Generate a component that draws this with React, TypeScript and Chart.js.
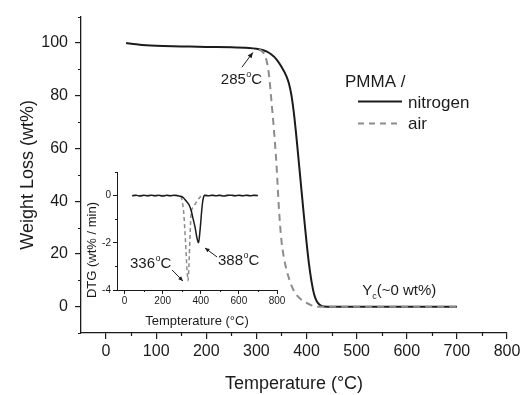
import React, { useEffect, useRef } from "react";
import { Chart, registerables } from "chart.js";

Chart.register(...registerables);

const FONT = '"Liberation Sans", Arial, Helvetica, sans-serif';
const INK = "#1b1b1b";
const GRAY = "#8c8c8c";

// ---------- Main TGA curves (Temperature °C -> Weight %) ----------
const nitrogenTemp = [40, 60, 80, 100, 150, 200, 250, 285, 300, 310, 320, 330, 340, 350, 360, 365, 370, 375, 380, 385, 390, 395, 400, 405, 410, 415, 420, 425, 430, 440, 500, 600, 700];
const nitrogenWeight = [100, 99.5, 99.1, 98.9, 98.7, 98.5, 98.4, 98.1, 97.8, 97.4, 96.8, 95.6, 93.8, 91, 87.3, 84.5, 80, 73, 64, 54, 44, 34, 24.5, 16, 9.5, 4.8, 2.2, 0.9, 0.3, 0, 0, 0, 0];
const airTemp = [305, 310, 315, 320, 325, 330, 335, 340, 345, 350, 355, 360, 370, 380, 390, 400, 410, 420, 500, 600, 700];
const airWeight = [97.6, 97.0, 96.0, 93.5, 88, 78, 67, 54, 37, 25, 18.5, 14, 8, 4.5, 2.6, 1.4, 0.5, 0, 0, 0, 0];

const mainXTicks = [0, 100, 200, 300, 400, 500, 600, 700, 800];
const mainXMinor = [50, 150, 250, 350, 450, 550, 650, 750];
const mainYTicks = [0, 20, 40, 60, 80, 100];
const mainYMinor = [-10, 10, 30, 50, 70, 90, 110];

// ---------- Inset DTG curves (Temperature °C -> wt% / min) ----------
const dtgNitrogenTemp = [40, 60, 80, 100, 120, 140, 160, 180, 200, 220, 240, 260, 280, 295, 310, 320, 330, 340, 350, 360, 370, 380, 388, 395, 400, 405, 410, 415, 420, 440, 460, 480, 500, 520, 540, 560, 580, 600, 620, 640, 660, 680, 700];
const dtgNitrogenRate = [-0.01, 0.02, -0.02, 0.01, -0.01, 0.02, -0.01, 0.01, -0.02, 0.01, -0.01, 0.02, -0.01, -0.03, -0.1, -0.2, -0.3, -0.42, -0.65, -1.0, -1.35, -1.8, -2.0, -1.55, -1.1, -0.6, -0.25, -0.05, 0.01, -0.01, 0.02, -0.01, 0.01, -0.02, 0.01, 0.02, -0.01, 0.01, -0.01, 0.02, -0.01, 0.01, 0.0];
const dtgAirTemp = [40, 290, 300, 310, 320, 328, 333, 338, 343, 348, 352, 360, 375, 390, 400, 410, 700];
const dtgAirRate = [0, 0, -0.15, -0.7, -2.0, -3.2, -3.6, -2.9, -1.8, -0.9, -0.6, -0.5, -0.3, -0.12, -0.03, 0, 0];

const insetXTicks = [0, 200, 400, 600, 800];
const insetXMinor = [100, 300, 500, 700];
const insetYTicks = [0, -2, -4];
const insetYMinor = [1, -1, -3];

const toPoints = (xs: number[], ys: number[]) => xs.map((x, i) => ({ x, y: ys[i] }));

function drawDeg(ctx: CanvasRenderingContext2D, x: number, y: number, lead: string, size: number) {
  ctx.textAlign = "left";
  ctx.textBaseline = "alphabetic";
  ctx.font = `${size}px ${FONT}`;
  ctx.fillText(lead, x, y);
  let cx = x + ctx.measureText(lead).width + 0.5;
  const small = Math.round(size * 0.6);
  ctx.font = `${small}px ${FONT}`;
  ctx.fillText("o", cx, y - size * 0.45);
  cx += ctx.measureText("o").width;
  ctx.font = `${size}px ${FONT}`;
  ctx.fillText("C", cx, y);
}

function drawArrow(ctx: CanvasRenderingContext2D, x1: number, y1: number, x2: number, y2: number, head: number) {
  ctx.beginPath();
  ctx.moveTo(x1, y1);
  ctx.lineTo(x2, y2);
  ctx.stroke();
  const a = Math.atan2(y2 - y1, x2 - x1);
  ctx.beginPath();
  ctx.moveTo(x2, y2);
  ctx.lineTo(x2 - head * Math.cos(a - 0.42), y2 - head * Math.sin(a - 0.42));
  ctx.lineTo(x2 - head * Math.cos(a + 0.42), y2 - head * Math.sin(a + 0.42));
  ctx.closePath();
  ctx.fill();
}

function minorTicks(xVals: number[], yVals: number[], len: number, width: number) {
  return {
    id: "minorTicks",
    afterDraw(chart: any) {
      const { ctx } = chart;
      const xs = chart.scales.x;
      const ys = chart.scales.y;
      ctx.save();
      ctx.strokeStyle = INK;
      ctx.lineWidth = width;
      ctx.beginPath();
      for (const v of xVals) {
        const px = Math.round(xs.getPixelForValue(v)) + 0.5;
        ctx.moveTo(px, xs.top);
        ctx.lineTo(px, xs.top + len);
      }
      for (const v of yVals) {
        const py = Math.round(ys.getPixelForValue(v)) + 0.5;
        ctx.moveTo(ys.right, py);
        ctx.lineTo(ys.right - len, py);
      }
      ctx.stroke();
      ctx.restore();
    },
  };
}

const mainAnnotations = {
  id: "mainAnnotations",
  afterDraw(chart: any) {
    const { ctx, chartArea } = chart;
    const xs = chart.scales.x;
    const ys = chart.scales.y;
    const X = (v: number) => xs.getPixelForValue(v);
    const Y = (v: number) => ys.getPixelForValue(v);
    ctx.save();
    ctx.fillStyle = INK;
    ctx.strokeStyle = INK;
    ctx.lineWidth = 1;
    // 285 °C onset label
    drawDeg(ctx, X(229), Y(84.5), "285", 15);
    drawArrow(ctx, X(271), Y(90.8), X(293), Y(96.4), 6);
    // Char yield label
    const yx = X(511);
    const yy = Y(4.3);
    ctx.font = `15px ${FONT}`;
    ctx.textAlign = "left";
    ctx.textBaseline = "alphabetic";
    ctx.fillText("Y", yx, yy);
    let cx = yx + ctx.measureText("Y").width;
    ctx.font = `9px ${FONT}`;
    ctx.fillText("c", cx, yy + 4);
    cx += ctx.measureText("c").width;
    ctx.font = `15px ${FONT}`;
    ctx.fillText("(~0 wt%)", cx, yy);
    // Legend
    const lx = chartArea.left + 264;
    const ly = chartArea.top + 70;
    ctx.font = `17px ${FONT}`;
    ctx.fillText("PMMA /", lx, ly);
    ctx.lineWidth = 2;
    ctx.strokeStyle = INK;
    ctx.beginPath();
    ctx.moveTo(lx + 13, ly + 15);
    ctx.lineTo(lx + 57, ly + 15);
    ctx.stroke();
    ctx.strokeStyle = GRAY;
    ctx.setLineDash([6, 5]);
    ctx.beginPath();
    ctx.moveTo(lx + 13, ly + 37);
    ctx.lineTo(lx + 57, ly + 37);
    ctx.stroke();
    ctx.setLineDash([]);
    ctx.fillText("nitrogen", lx + 63, ly + 21);
    ctx.fillText("air", lx + 63, ly + 42);
    ctx.restore();
  },
};

const insetAnnotations = {
  id: "insetAnnotations",
  afterDraw(chart: any) {
    const { ctx, chartArea } = chart;
    const xs = chart.scales.x;
    const ys = chart.scales.y;
    const X = (v: number) => xs.getPixelForValue(v);
    const Y = (v: number) => ys.getPixelForValue(v);
    ctx.save();
    ctx.fillStyle = INK;
    ctx.strokeStyle = INK;
    ctx.lineWidth = 1;
    drawDeg(ctx, X(28), Y(-3.07), "336", 15);
    drawArrow(ctx, X(249), Y(-3.15), X(306), Y(-3.62), 5);
    drawDeg(ctx, X(490), Y(-2.94), "388", 15);
    drawArrow(ctx, X(485), Y(-2.6), X(422), Y(-2.22), 5);
    // rotated y title
    ctx.translate(chartArea.left - 25, (chartArea.top + chartArea.bottom) / 2 + 19);
    ctx.rotate(-Math.PI / 2);
    ctx.font = `13px ${FONT}`;
    ctx.textAlign = "center";
    ctx.textBaseline = "middle";
    ctx.fillText("DTG (wt% / min)", 0, 0);
    ctx.restore();
  },
};

export default function App() {
  const mainRef = useRef<HTMLCanvasElement | null>(null);
  const insetRef = useRef<HTMLCanvasElement | null>(null);

  useEffect(() => {
    const main = new Chart(mainRef.current as HTMLCanvasElement, {
      type: "line",
      data: {
        datasets: [
          {
            label: "air",
            data: toPoints(airTemp, airWeight),
            borderColor: GRAY,
            borderWidth: 2,
            borderDash: [7, 5],
            pointRadius: 0,
            cubicInterpolationMode: "monotone",
            fill: false,
            order: 0,
          },
          {
            label: "nitrogen",
            data: toPoints(nitrogenTemp, nitrogenWeight),
            borderColor: INK,
            borderWidth: 2,
            pointRadius: 0,
            cubicInterpolationMode: "monotone",
            fill: false,
            order: 1,
          },
        ],
      },
      options: {
        animation: false,
        responsive: false,
        maintainAspectRatio: false,
        layout: { padding: { left: 0, top: 15, right: 20, bottom: 0 } },
        plugins: { legend: { display: false }, tooltip: { enabled: false } },
        scales: {
          x: {
            type: "linear",
            min: -50,
            max: 800,
            afterBuildTicks: (s: any) => {
              s.ticks = mainXTicks.map((v) => ({ value: v }));
            },
            afterFit: (s: any) => {
              s.height = 62;
            },
            grid: { drawOnChartArea: false, drawTicks: true, tickLength: 6, color: INK, lineWidth: 1.2 },
            border: { display: true, color: INK, width: 1.3 },
            ticks: { color: INK, font: { family: FONT, size: 16 }, padding: 3, maxRotation: 0, autoSkip: false, callback: (v: any) => String(v) },
            title: { display: true, text: "Temperature (°C)", color: INK, font: { family: FONT, size: 18 }, padding: { top: 0, bottom: 0 } },
          },
          y: {
            type: "linear",
            min: -10,
            max: 110,
            afterBuildTicks: (s: any) => {
              s.ticks = mainYTicks.map((v) => ({ value: v }));
            },
            afterFit: (s: any) => {
              s.width = 81;
            },
            grid: { drawOnChartArea: false, drawTicks: true, tickLength: 6, color: INK, lineWidth: 1.2 },
            border: { display: true, color: INK, width: 1.3 },
            ticks: { color: INK, font: { family: FONT, size: 16 }, padding: 7, autoSkip: false, callback: (v: any) => String(v) },
            title: { display: true, text: "Weight Loss (wt%)", color: INK, font: { family: FONT, size: 18 }, padding: { top: 17, bottom: 0 } },
          },
        },
      } as any,
      plugins: [minorTicks(mainXMinor, mainYMinor, 3, 1.2), mainAnnotations],
    });

    const inset = new Chart(insetRef.current as HTMLCanvasElement, {
      type: "line",
      data: {
        datasets: [
          {
            label: "nitrogen",
            data: toPoints(dtgNitrogenTemp, dtgNitrogenRate),
            borderColor: INK,
            borderWidth: 1.5,
            pointRadius: 0,
            cubicInterpolationMode: "monotone",
            fill: false,
            order: 0,
          },
          {
            label: "air",
            data: toPoints(dtgAirTemp, dtgAirRate),
            borderColor: GRAY,
            borderWidth: 1.5,
            borderDash: [4, 3],
            pointRadius: 0,
            cubicInterpolationMode: "monotone",
            fill: false,
            order: 1,
          },
        ],
      },
      options: {
        animation: false,
        responsive: false,
        maintainAspectRatio: false,
        layout: { padding: { left: 0, top: 12, right: 13, bottom: 0 } },
        plugins: { legend: { display: false }, tooltip: { enabled: false } },
        scales: {
          x: {
            type: "linear",
            min: -40,
            max: 800,
            afterBuildTicks: (s: any) => {
              s.ticks = insetXTicks.map((v) => ({ value: v }));
            },
            afterFit: (s: any) => {
              s.height = 50;
            },
            grid: { drawOnChartArea: false, drawTicks: true, tickLength: 4, color: INK, lineWidth: 1 },
            border: { display: true, color: INK, width: 1 },
            ticks: { color: INK, font: { family: FONT, size: 10 }, padding: 1, maxRotation: 0, autoSkip: false, callback: (v: any) => String(v) },
            title: { display: true, text: "Tempterature (°C)", color: INK, font: { family: FONT, size: 13 }, padding: { top: 0, bottom: 11 } },
          },
          y: {
            type: "linear",
            min: -4,
            max: 1,
            afterBuildTicks: (s: any) => {
              s.ticks = insetYTicks.map((v) => ({ value: v }));
            },
            afterFit: (s: any) => {
              s.width = 57;
            },
            grid: { drawOnChartArea: false, drawTicks: true, tickLength: 4, color: INK, lineWidth: 1 },
            border: { display: true, color: INK, width: 1 },
            ticks: { color: INK, font: { family: FONT, size: 10 }, padding: 2, autoSkip: false, callback: (v: any) => String(v) },
          },
        },
      } as any,
      plugins: [minorTicks(insetXMinor, insetYMinor, 2, 1), insetAnnotations],
    });

    return () => {
      main.destroy();
      inset.destroy();
    };
  }, []);

  return (
    <div style={{ position: "fixed", left: 0, top: 0, width: 527, height: 395, background: "#fff", overflow: "hidden" }}>
      <canvas ref={mainRef} width={527} height={395} style={{ position: "absolute", left: 0, top: 0, width: 527, height: 395 }} />
      <canvas ref={insetRef} width={230} height={180} style={{ position: "absolute", left: 60, top: 160, width: 230, height: 180 }} />
    </div>
  );
}
